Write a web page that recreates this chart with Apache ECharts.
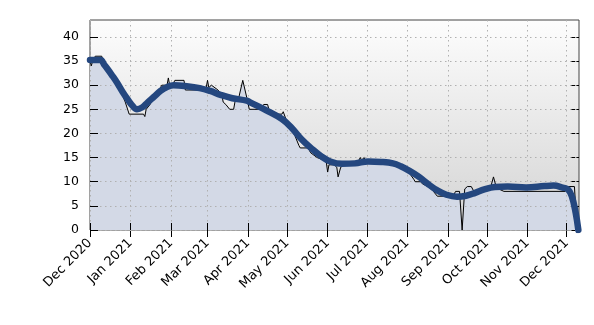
<!DOCTYPE html>
<html>
<head>
<meta charset="utf-8">
<script src="https://cdn.jsdelivr.net/npm/echarts@6/dist/echarts.min.js"></script>
<style>html,body{margin:0;padding:0;background:#fff}#c{width:594px;height:325px}</style>
</head>
<body>
<div id="c"></div>
<script>
// Raw daily values (thin black line + fill)
const rawDates = ['2020-12-01','2020-12-02','2020-12-03','2020-12-05','2020-12-10','2020-12-11','2020-12-13','2020-12-16','2020-12-19','2020-12-20','2020-12-21','2020-12-22','2020-12-25','2020-12-28','2020-12-31','2021-01-11','2021-01-12','2021-01-13','2021-01-16','2021-01-19','2021-01-22','2021-01-25','2021-01-29','2021-01-30','2021-01-31','2021-02-02','2021-02-04','2021-02-11','2021-02-12','2021-02-24','2021-02-26','2021-02-28','2021-03-01','2021-03-02','2021-03-04','2021-03-09','2021-03-12','2021-03-13','2021-03-15','2021-03-18','2021-03-21','2021-03-22','2021-03-25','2021-03-28','2021-03-31','2021-04-02','2021-04-11','2021-04-13','2021-04-16','2021-04-17','2021-04-24','2021-04-27','2021-04-28','2021-04-30','2021-05-03','2021-05-07','2021-05-10','2021-05-11','2021-05-17','2021-05-19','2021-05-24','2021-05-29','2021-05-31','2021-06-01','2021-06-02','2021-06-06','2021-06-08','2021-06-09','2021-06-11','2021-06-14','2021-06-20','2021-06-24','2021-06-26','2021-06-27','2021-06-29','2021-06-30','2021-07-24','2021-07-26','2021-07-28','2021-08-02','2021-08-06','2021-08-07','2021-08-11','2021-08-13','2021-08-17','2021-08-21','2021-08-24','2021-09-05','2021-09-07','2021-09-10','2021-09-12','2021-09-14','2021-09-16','2021-09-19','2021-09-21','2021-09-26','2021-10-01','2021-10-04','2021-10-06','2021-10-08','2021-10-10','2021-10-14','2021-11-30','2021-12-01','2021-12-07','2021-12-09'];
const rawValues = [35,34,35,36,36,35,34,33,31,30.5,31,29.5,28.5,26.5,24,24,23.5,25,26,27.5,28.5,30,30,31.5,30,30,31,31,29,29,29.5,29.5,31,29.5,30,29,28,26.5,26,25,25,26.5,27.5,31,27.5,25,25,26,26,25,24,24,24.5,23,21.5,19.5,17.5,17,17,16,15,14.5,14,12,13.5,13.5,13,11,13,13.5,13.7,14,15,14.5,15,14,14,13.5,13,12,10.5,10,10,9.5,9,8,7,7,8,8,0,8.5,9,9,8,8.3,9,9,11,9,8.5,8,8,9,9,0];

// Smoothed trend (thick blue line)
const smoothDates = ['2020-12-01','2020-12-09','2020-12-12','2020-12-14','2020-12-18','2020-12-22','2020-12-26','2020-12-30','2021-01-02','2021-01-06','2021-01-10','2021-01-14','2021-01-19','2021-01-24','2021-01-29','2021-02-03','2021-02-13','2021-02-23','2021-03-03','2021-03-11','2021-03-20','2021-03-31','2021-04-03','2021-04-15','2021-04-27','2021-05-04','2021-05-12','2021-05-20','2021-05-27','2021-06-03','2021-06-12','2021-06-22','2021-07-02','2021-07-12','2021-07-21','2021-07-27','2021-08-03','2021-08-10','2021-08-17','2021-08-24','2021-08-31','2021-09-08','2021-09-15','2021-09-22','2021-09-29','2021-10-07','2021-10-17','2021-10-31','2021-11-14','2021-11-21','2021-11-28','2021-12-02','2021-12-05','2021-12-08','2021-12-10'];
const smoothValues = [35.2,35.2,34.2,33.5,32,30.4,28.6,27,25.9,25,25.4,26.4,27.6,28.8,29.6,30,29.8,29.4,28.8,28,27.3,26.8,26.4,24.8,23,21.3,18.8,16.8,15.3,14.2,13.7,13.8,14.2,14.1,13.8,13.2,12.2,11,9.5,8.2,7.3,6.9,7.1,7.7,8.4,8.9,9,8.8,9.1,9.2,8.8,8.4,7,3.5,0];

// Axis ticks
const monthTicks = ['2020-12-01','2021-01-01','2021-02-01','2021-03-01','2021-04-01','2021-05-01','2021-06-01','2021-07-01','2021-08-01','2021-09-01','2021-10-01','2021-11-01','2021-12-01'];
const monthLabels = ['Dec 2020','Jan 2021','Feb 2021','Mar 2021','Apr 2021','May 2021','Jun 2021','Jul 2021','Aug 2021','Sep 2021','Oct 2021','Nov 2021','Dec 2021'];
const yTicks = [0,5,10,15,20,25,30,35,40];

function ts(s){ const p=s.split('-'); return new Date(+p[0], +p[1]-1, +p[2]).getTime(); }
const xMin = ts('2020-12-01');
const xMax = ts('2021-12-10') + 12*3600*1000;
const tickTs = monthTicks.map(ts);
const rawData = rawDates.map((d,i)=>[ts(d), rawValues[i]]);
const smoothData = smoothDates.map((d,i)=>[ts(d), smoothValues[i]]);

const font = {fontFamily:'DejaVu Sans', fontSize:13, color:'#000'};
const chart = echarts.init(document.getElementById('c'), null, {renderer:'canvas'});
const xBase = {
  type:'value', min:xMin, max:xMax, scale:true,
  axisLine:{show:false},
  axisTick:{show:true, inside:true, length:7, customValues:tickTs, lineStyle:{color:'#000', width:1}},
};
const yBase = {
  type:'value', min:0, max:43.5, interval:5,
  axisLine:{show:false},
  axisTick:{show:true, inside:true, length:8, customValues:yTicks, lineStyle:{color:'#000', width:1}},
};
chart.setOption({
  animation:false,
  grid:{left:90, right:15, top:20, bottom:95, show:true, borderColor:'#444', borderWidth:1,
    backgroundColor: new echarts.graphic.LinearGradient(0,0,0,1,[{offset:0,color:'#fdfdfd'},{offset:1,color:'#d3d3d3'}])},
  xAxis:[
    Object.assign({}, xBase, {position:'bottom', z:1.5,
      axisLabel:Object.assign({}, font, {rotate:45, margin:11, customValues:tickTs,
        formatter:function(v){ const i=tickTs.indexOf(v); return i>=0?monthLabels[i]:''; }}),
      splitLine:{show:true, lineStyle:{color:'#b0b0b0', type:[1.5,3.5], width:1}}
    }),
    Object.assign({}, xBase, {position:'top', axisLabel:{show:false}, splitLine:{show:false}})
  ],
  yAxis:[
    Object.assign({}, yBase, {position:'left', z:1.5,
      axisLabel:Object.assign({}, font, {fontSize:12.5, margin:11, customValues:yTicks, formatter:function(v){return String(v);}}),
      splitLine:{show:true, lineStyle:{color:'#b0b0b0', type:[1.5,3.5], width:1}}
    }),
    Object.assign({}, yBase, {position:'right', axisLabel:{show:false}, splitLine:{show:false}})
  ],
  series:[
    {type:'line', data:rawData, z:1, symbol:'none', lineStyle:{width:0}, areaStyle:{color:'#d3d9e6', opacity:1}, silent:true},
    {type:'line', data:rawData, z:3, symbol:'none', lineStyle:{color:'#000', width:1}},
    {type:'line', data:smoothData, z:4, symbol:'none', smooth:0.4, lineStyle:{color:'#24477f', width:6.5, cap:'round', join:'round'}}
  ]
});
</script>
</body>
</html>
